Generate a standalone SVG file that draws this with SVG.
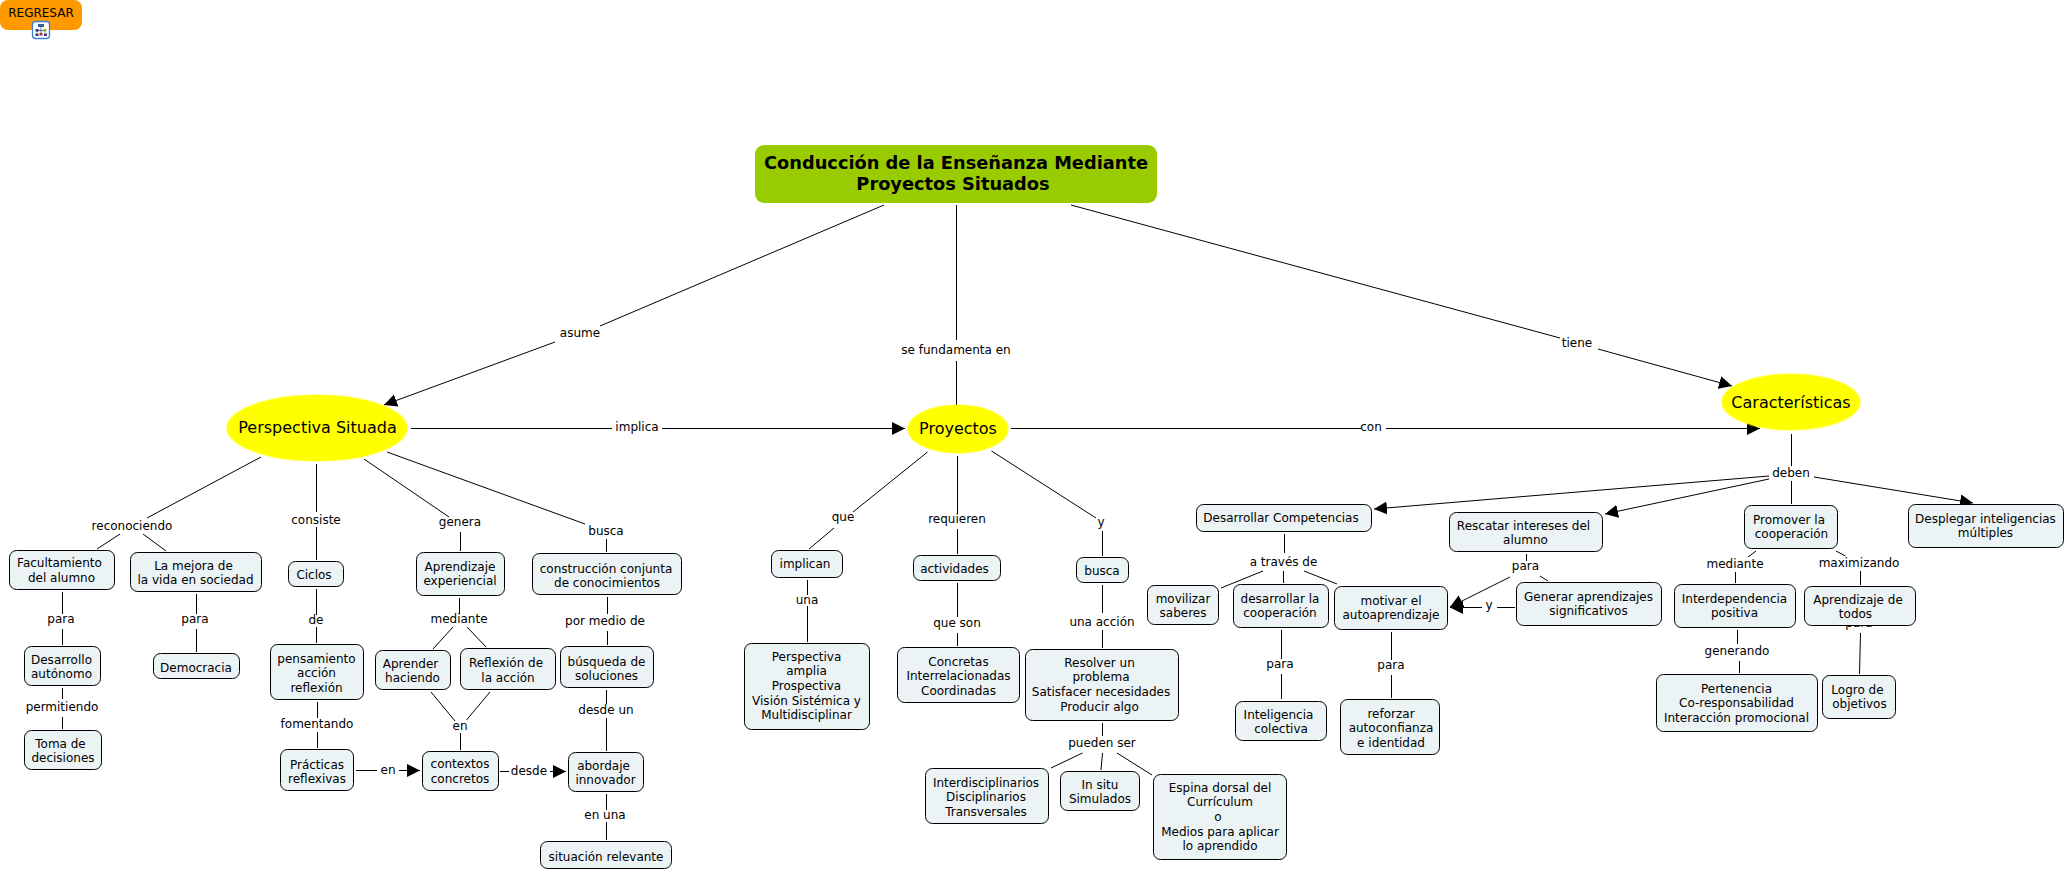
<svg xmlns="http://www.w3.org/2000/svg" width="2067" height="871" viewBox="0 0 2067 871">
<style>
text{font-family:"DejaVu Sans",Verdana,sans-serif;font-size:12px;fill:#000;text-anchor:middle}
.n rect{fill:#ebf3f5;stroke:#000;stroke-width:1}
.e text{font-size:16px}
.e ellipse{fill:#ff0;stroke:#ff0;stroke-opacity:.4;stroke-width:2}
#connectors path{fill:none;stroke:#000;stroke-width:1}
#connectors .a{marker-end:url(#ah)}
</style>
<defs><marker id="ah" markerUnits="userSpaceOnUse" markerWidth="14" markerHeight="14" viewBox="0 0 14 14" refX="13" refY="7" orient="auto"><path d="M0,0.5L13,7L0,13.5z" fill="#000"/></marker></defs>
<rect width="2067" height="871" fill="#fff"/>
<g id="connectors">
<path class="a" d="M884,205L600,326M555,342L384,405"/>
<path d="M956.500,205V340M956.500,361V405"/>
<path class="a" d="M1071,205L1560,338M1598,349L1732,386"/>
<path class="a" d="M411,428.500H612M662,428.500H905"/>
<path class="a" d="M1011,428.500H1361M1386,428.500H1760"/>
<path d="M261,457L147,518M120,534L97,549M143,534L166,551"/>
<path d="M316.500,464V512M316.500,527V560"/>
<path d="M364,459L449,517M460.500,532V551"/>
<path d="M387,452L585,524M606.500,539V552"/>
<path d="M62.500,592V614M62.500,629V645M62.500,688V699M62.500,717V729"/>
<path d="M196.500,594V614M196.500,629V652"/>
<path d="M316.500,589V615M316.500,627V643M317.500,702V718M317.500,732V748"/>
<path d="M459.500,598V614M453,627L433,649M467,627L486,647"/>
<path d="M607.500,597V614M607.500,631V645M606.500,690V704M606.500,718V751M606.500,794V810M606.500,822V840"/>
<path d="M431,692L455,721M490,692L466.500,720M460.500,733V750"/>
<path class="a" d="M356,770.500H377M399,770.500H420"/>
<path class="a" d="M500,771.500H509M550,771.500H566"/>
<path d="M927.500,452L853,512M834,528L809,549"/>
<path d="M957.500,456V514M957.500,529V554M957.500,583V617M957.500,633V646"/>
<path d="M991.500,451L1096,518M1102.500,531V556"/>
<path d="M807.500,580V595M807.500,606V642"/>
<path d="M1102.500,585V613M1102.500,630V648M1102.500,723V736"/>
<path d="M1082.500,753L1051,768M1102.500,753L1101,770M1117,753L1152,775"/>
<path d="M1284.500,534V553M1263,571L1221,588M1283.500,571V583M1304,571L1337,584"/>
<path d="M1281.500,630V659M1281.500,674V699M1391.500,632V660M1391.500,675V698"/>
<path d="M1791.500,434V466M1791.500,481V504"/>
<path class="a" d="M1769,476L1374,509"/>
<path class="a" d="M1769,479L1605,514"/>
<path class="a" d="M1814,477L1973,503"/>
<path d="M1526.500,554V561M1540,576L1548,581"/>
<path class="a" d="M1510,577L1450,607"/>
<path class="a" d="M1515,607.500H1497M1482,607.500H1450"/>
<path d="M1756,551L1748,557M1735.500,572V583M1737.500,630V644M1739.500,661V673"/>
<path d="M1836,551L1845.500,556M1860.500,571V585M1860.500,633L1859.500,674"/>
</g>
<g id="labels">
<text x="580" y="337">asume</text><text x="956" y="354">se fundamenta en</text><text x="1577" y="347">tiene</text>
<text x="637" y="431">implica</text><text x="1371" y="431">con</text>
<text x="132" y="530">reconociendo</text><text x="316" y="524">consiste</text><text x="460" y="526">genera</text><text x="606" y="535">busca</text>
<text x="61" y="623">para</text><text x="62" y="711">permitiendo</text><text x="195" y="623">para</text>
<text x="316" y="624">de</text><text x="317" y="728">fomentando</text><text x="459" y="623">mediante</text>
<text x="605" y="625">por medio de</text><text x="606" y="714">desde un</text><text x="460" y="730">en</text>
<text x="388" y="774">en</text><text x="529" y="775">desde</text><text x="605" y="819">en una</text>
<text x="843" y="521">que</text><text x="957" y="523">requieren</text><text x="1101" y="526">y</text>
<text x="807" y="604">una</text><text x="957" y="627">que son</text><text x="1102" y="626">una acción</text><text x="1102" y="747">pueden ser</text>
<text x="1283.500" y="566">a través de</text><text x="1280" y="668">para</text><text x="1391" y="669">para</text>
<text x="1791" y="477">deben</text><text x="1525.500" y="570">para</text><text x="1489" y="609">y</text>
<text x="1735" y="568">mediante</text><text x="1859" y="567">maximizando</text><text x="1737" y="655">generando</text>
<text x="1859" y="626.500">para</text>
</g>
<g id="regresar"><rect x="0" y="0" width="82" height="30" rx="8" fill="#f90"/><text x="41" y="17">REGRESAR</text></g>
<g id="icon"><rect x="32.500" y="21.500" width="17" height="17" rx="3" fill="#fff" stroke="#3f7fd0" stroke-width="1.300"/><path d="M41,27v3M37,30.500h8M37,30.500v2M45,30.500v2M41,30.500v3" fill="none" stroke="#336" stroke-width=".7"/><rect x="38" y="24" width="6" height="3" fill="#335fa0"/><rect x="35.500" y="29" width="3" height="2.500" fill="#338"/><rect x="43.500" y="29" width="3" height="2.500" fill="#9a3"/><rect x="39.500" y="33" width="3" height="2.500" fill="#a33"/><rect x="35.500" y="33.500" width="3" height="2.500" fill="#338"/><rect x="44" y="33.500" width="3" height="2.500" fill="#338"/></g>
<g id="root"><rect x="755" y="145" width="402" height="58" rx="9" fill="#9c0"/><text x="956" y="169" font-weight="bold" style="font-size:17.800px">Conducción de la Enseñanza Mediante</text><text x="953" y="190" font-weight="bold" style="font-size:17.800px">Proyectos Situados</text></g>
<g id="perspectiva" class="e"><ellipse cx="317" cy="428" rx="90" ry="33"/><text x="317.500" y="433">Perspectiva Situada</text></g>
<g id="proyectos" class="e"><ellipse cx="958" cy="429" rx="50" ry="24"/><text x="958" y="434">Proyectos</text></g>
<g id="caracteristicas" class="e"><ellipse cx="1791" cy="402" rx="69" ry="28"/><text x="1791" y="408">Características</text></g>
<g id="n1" class="n"><rect x="9.500" y="550.500" width="105" height="39" rx="7"/><text x="59.500" y="567">Facultamiento</text><text x="61.500" y="582">del alumno</text></g>
<g id="n2" class="n"><rect x="130.500" y="552.500" width="131" height="39" rx="7"/><text x="193.500" y="569.500">La mejora de</text><text x="195.500" y="584">la vida en sociedad</text></g>
<g id="n3" class="n"><rect x="288.500" y="561.500" width="55" height="25" rx="7"/><text x="314" y="578.500">Ciclos</text></g>
<g id="n4" class="n"><rect x="416.500" y="552.500" width="88" height="43" rx="7"/><text x="460" y="570.500">Aprendizaje</text><text x="460" y="585">experiencial</text></g>
<g id="n5" class="n"><rect x="532.500" y="553.500" width="149" height="41" rx="7"/><text x="606" y="572.500">construcción conjunta</text><text x="607" y="587">de conocimientos</text></g>
<g id="n6" class="n"><rect x="24.500" y="646.500" width="76" height="39" rx="7"/><text x="61.500" y="663.500">Desarrollo</text><text x="61.500" y="678">autónomo</text></g>
<g id="n7" class="n"><rect x="153.500" y="653.500" width="86" height="25" rx="7"/><text x="196" y="671.500">Democracia</text></g>
<g id="n8" class="n"><rect x="270.500" y="644.500" width="93" height="55" rx="7"/><text x="316.500" y="662.500">pensamiento</text><text x="316.500" y="677">acción</text><text x="316.500" y="692">reflexión</text></g>
<g id="n9" class="n"><rect x="375.500" y="650.500" width="75" height="39" rx="7"/><text x="410.500" y="667.500">Aprender</text><text x="412.500" y="682">haciendo</text></g>
<g id="n10" class="n"><rect x="460.500" y="648.500" width="95" height="41" rx="7"/><text x="506" y="667">Reflexión de</text><text x="508" y="682">la acción</text></g>
<g id="n11" class="n"><rect x="560.500" y="646.500" width="93" height="41" rx="7"/><text x="606.500" y="665.500">búsqueda de</text><text x="606.500" y="680">soluciones</text></g>
<g id="n12" class="n"><rect x="24.500" y="730.500" width="77" height="39" rx="7"/><text x="60.500" y="747.500">Toma de</text><text x="63" y="762">decisiones</text></g>
<g id="n13" class="n"><rect x="280.500" y="749.500" width="73" height="41" rx="7"/><text x="317" y="768.500">Prácticas</text><text x="317" y="783">reflexivas</text></g>
<g id="n14" class="n"><rect x="422.500" y="751.500" width="76" height="39" rx="7"/><text x="460" y="768">contextos</text><text x="460" y="783">concretos</text></g>
<g id="n15" class="n"><rect x="568.500" y="752.500" width="75" height="39" rx="7"/><text x="603.500" y="769.500">abordaje</text><text x="605.500" y="784">innovador</text></g>
<g id="n16" class="n"><rect x="540.500" y="841.500" width="131" height="27" rx="7"/><text x="606" y="860.500">situación relevante</text></g>
<g id="n17" class="n"><rect x="771.500" y="550.500" width="71" height="27" rx="7"/><text x="805" y="567.500">implican</text></g>
<g id="n18" class="n"><rect x="913.500" y="555.500" width="87" height="25" rx="7"/><text x="954.500" y="572.500">actividades</text></g>
<g id="n19" class="n"><rect x="1076.500" y="557.500" width="52" height="25" rx="7"/><text x="1102" y="574.500">busca</text></g>
<g id="n20" class="n"><rect x="744.500" y="643.500" width="125" height="86" rx="7"/><text x="806.500" y="660.500">Perspectiva</text><text x="806.500" y="675">amplia</text><text x="806.500" y="690">Prospectiva</text><text x="806.500" y="704.500">Visión Sistémica y</text><text x="806.500" y="719">Multidisciplinar</text></g>
<g id="n21" class="n"><rect x="897.500" y="647.500" width="122" height="55" rx="7"/><text x="958.500" y="665.500">Concretas</text><text x="958.500" y="680">Interrelacionadas</text><text x="958.500" y="695">Coordinadas</text></g>
<g id="n22" class="n"><rect x="1025.500" y="649.500" width="153" height="71" rx="7"/><text x="1099.500" y="666.500">Resolver un</text><text x="1101" y="681">problema</text><text x="1101" y="696">Satisfacer necesidades</text><text x="1099.500" y="710.500">Producir algo</text></g>
<g id="n23" class="n"><rect x="1196.500" y="504.500" width="175" height="27" rx="7"/><text x="1281" y="521.500">Desarrollar Competencias</text></g>
<g id="n24" class="n"><rect x="1147.500" y="585.500" width="71" height="39" rx="7"/><text x="1183" y="602.500">movilizar</text><text x="1183" y="617">saberes</text></g>
<g id="n25" class="n"><rect x="1233.500" y="584.500" width="95" height="43" rx="7"/><text x="1280" y="602.500">desarrollar la</text><text x="1280" y="617">cooperación</text></g>
<g id="n26" class="n"><rect x="1334.500" y="586.500" width="113" height="43" rx="7"/><text x="1391" y="604.500">motivar el</text><text x="1391" y="619">autoaprendizaje</text></g>
<g id="n27" class="n"><rect x="1235.500" y="701.500" width="91" height="39" rx="7"/><text x="1278.500" y="718.500">Inteligencia</text><text x="1281" y="733">colectiva</text></g>
<g id="n28" class="n"><rect x="1340.500" y="699.500" width="99" height="55" rx="7"/><text x="1391" y="717.500">reforzar</text><text x="1391" y="732">autoconfianza</text><text x="1391" y="746.500">e identidad</text></g>
<g id="n29" class="n"><rect x="925.500" y="768.500" width="123" height="55" rx="7"/><text x="986" y="786.500">Interdisciplinarios</text><text x="986" y="801">Disciplinarios</text><text x="986" y="816">Transversales</text></g>
<g id="n30" class="n"><rect x="1060.500" y="771.500" width="79" height="39" rx="7"/><text x="1100" y="788.500">In situ</text><text x="1100" y="803">Simulados</text></g>
<g id="n31" class="n"><rect x="1153.500" y="774.500" width="133" height="85" rx="7"/><text x="1220" y="791.500">Espina dorsal del</text><text x="1220" y="806">Currículum</text><text x="1218" y="821">o</text><text x="1220" y="835.500">Medios para aplicar</text><text x="1220" y="850">lo aprendido</text></g>
<g id="n32" class="n"><rect x="1449.500" y="512.500" width="153" height="39" rx="7"/><text x="1523.500" y="529.500">Rescatar intereses del</text><text x="1525.500" y="544">alumno</text></g>
<g id="n33" class="n"><rect x="1744.500" y="505.500" width="93" height="43" rx="7"/><text x="1789" y="523.500">Promover la</text><text x="1791.500" y="538">cooperación</text></g>
<g id="n34" class="n"><rect x="1908.500" y="504.500" width="155" height="43" rx="7"/><text x="1985.500" y="522.500">Desplegar inteligencias</text><text x="1985.500" y="537">múltiples</text></g>
<g id="n35" class="n"><rect x="1516.500" y="582.500" width="145" height="43" rx="7"/><text x="1588.500" y="600.500">Generar aprendizajes</text><text x="1588.500" y="615">significativos</text></g>
<g id="n36" class="n"><rect x="1674.500" y="584.500" width="121" height="43" rx="7"/><text x="1734.500" y="602.500">Interdependencia</text><text x="1734.500" y="617">positiva</text></g>
<g id="n37" class="n"><rect x="1804.500" y="586.500" width="111" height="39" rx="7"/><text x="1858" y="603.500">Aprendizaje de</text><text x="1855.500" y="618">todos</text></g>
<g id="n38" class="n"><rect x="1656.500" y="674.500" width="161" height="57" rx="7"/><text x="1736.500" y="692.500">Pertenencia</text><text x="1736.500" y="707">Co-responsabilidad</text><text x="1736.500" y="721.500">Interacción promocional</text></g>
<g id="n39" class="n"><rect x="1822.500" y="675.500" width="73" height="43" rx="7"/><text x="1857.500" y="693.500">Logro de</text><text x="1859.500" y="708">objetivos</text></g>
</svg>
